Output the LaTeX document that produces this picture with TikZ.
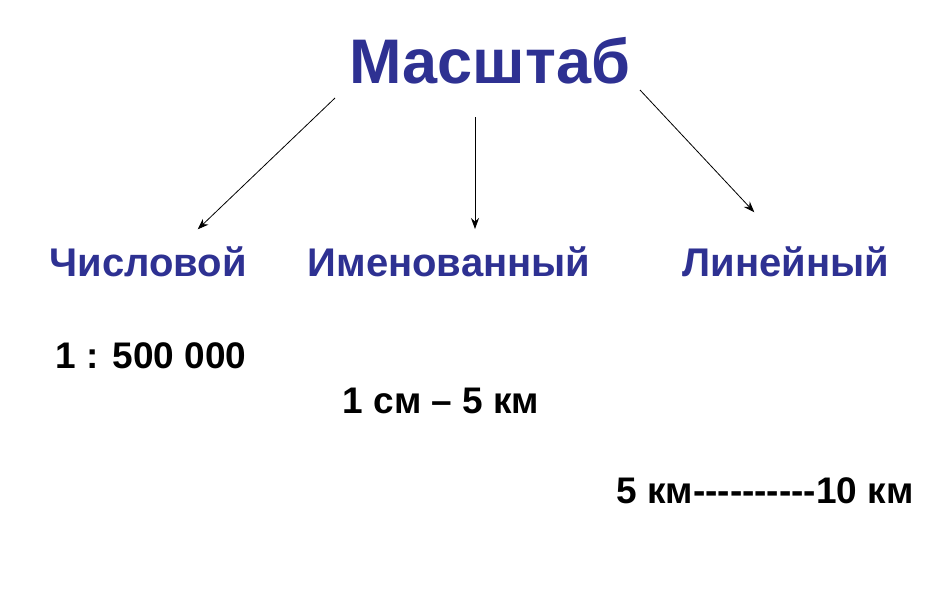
\documentclass[tikz,border=0pt]{standalone}
\usepackage{fontspec}
\setmainfont{Liberation Sans}[Ligatures=TeXOff]
\usepackage{xcolor}
\usepackage{tikz}
\usetikzlibrary{arrows.meta}
\usetikzlibrary{calc}
\usetikzlibrary{positioning}
\definecolor{scaleblue}{RGB}{46,49,146}

\begin{document}
\begin{tikzpicture}[->,>={Stealth[length=11pt,width=8pt]},shorten >=1pt,x=1pt,y=-1pt,
                    line width=0.8pt]
  \tikzstyle{every node}=[inner sep=0pt, anchor=base]
  \tikzstyle{kind}=[text=scaleblue, font=\fontsize{40}{40}\selectfont\bfseries]
  \tikzstyle{sample}=[text=black, font=\fontsize{37}{37}\selectfont\bfseries]
  \useasboundingbox[fill=white] (0,0) rectangle (952,606);
  \node[text=scaleblue, font=\fontsize{63}{63}\selectfont\bfseries] (M) at (490,83) {Масштаб};
  \node[kind] (num)   at (148,276) {Числовой};
  \node[kind] (named) at (449,276) {Именованный};
  \node[kind] (lin)   at (786,276) {Линейный};
  \node[sample] (numex)   at (151,368) {1 : 500 000};
  \node[sample] (namedex) at (441,413) {1 см – 5 км};
  \node[sample] (linex)   at (765,503) {5 км----------10 км};
  % arrow ends
  \coordinate (a1) at ($(M.base)+(-155,15)$);
  \coordinate (b1) at ($(num.base)+(49,-46)$);
  \coordinate (a2) at ($(M.base)+(-15,34)$);
  \coordinate (b2) at ($(named.base)+(26,-46)$);
  \coordinate (a3) at ($(M.base)+(150,7)$);
  \coordinate (b3) at ($(lin.base)+(-31,-63)$);
  \path (a1) edge (b1)
        (a2) edge (b2)
        (a3) edge (b3);
\end{tikzpicture}
\end{document}
